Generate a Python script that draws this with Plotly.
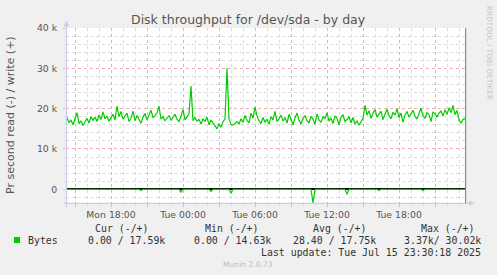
import plotly.graph_objects as go
import pandas as pd

# ---------------- data ----------------
# write bytes/s (positive), 10-minute samples starting Mon 14:20
write_k = [
    17.8, 16.5, 17.2, 16.0, 17.5, 19.0, 16.3, 17.0, 15.8, 16.9,
    17.6, 16.4, 18.0, 17.1, 17.9, 16.8, 18.4, 17.3, 19.2, 17.5,
    18.1, 16.9, 17.8, 18.6, 17.2, 20.6, 18.0, 19.3, 17.4, 18.2,
    18.9, 16.8, 17.6, 19.4, 17.0, 18.3, 17.5, 16.4, 17.9, 18.8,
    17.2, 18.5, 19.6, 17.8, 18.2, 18.9, 20.6, 17.4, 18.0, 17.0,
    17.6, 18.3, 17.1, 17.9, 18.6, 17.4, 16.8, 18.1, 19.8, 17.2,
    18.0, 18.7, 25.6, 17.0, 17.8, 16.9, 17.3, 16.2, 17.5, 16.8,
    17.9, 16.0, 17.2, 16.5, 15.6, 15.0, 16.3, 15.4, 16.8, 17.4,
    30.0, 17.5, 16.1, 15.9, 16.3, 16.8, 16.2, 17.5, 16.6, 18.3,
    17.1, 16.5, 18.9, 17.6, 20.4, 18.2, 17.0, 16.3, 17.8, 16.6,
    17.4, 16.1, 18.0, 17.2, 19.3, 16.8, 17.5, 18.4, 16.9, 17.8,
    16.4, 18.6, 17.3, 16.0, 17.7, 18.9, 17.1, 16.2, 17.6, 18.3,
    17.0, 16.5, 18.1, 17.4, 16.1, 18.7, 17.2, 16.6, 18.0, 17.5,
    19.0, 16.9, 17.7, 16.3, 18.2, 17.6, 16.0, 17.9, 18.5, 16.8,
    17.3, 18.0, 16.5, 17.8, 16.2, 17.0, 15.9, 16.8, 17.6, 20.8,
    18.4, 19.5, 17.6, 18.9, 19.8, 17.9, 18.6, 19.4, 17.3, 18.8,
    19.9, 18.2, 17.5, 19.1, 18.4, 20.0, 17.8, 18.9, 16.6, 18.5,
    19.3, 17.9, 18.6, 19.6, 18.1, 17.4, 18.8, 20.1, 18.3, 17.6,
    19.0, 18.5, 16.8, 19.2, 18.7, 17.9, 18.9, 19.4, 18.2, 19.7,
    18.6, 20.2, 19.0, 20.8, 18.5, 19.6, 17.2, 16.4, 17.3, 17.59,
]
# read bytes/s (drawn negative), same samples; mostly zero
read_k = [0.0] * len(write_k)
read_spikes = {37: 0.3, 57: 0.7, 72: 0.5, 82: 1.0, 123: 3.37, 140: 1.25, 156: 0.3, 178: 0.3}
for idx, v in read_spikes.items():
    read_k[idx] = v

times = pd.date_range("2025-07-14 14:20", periods=len(write_k), freq="10min")

x_range = ["2025-07-14 14:15", "2025-07-15 23:35"]
x_tickvals = pd.date_range("2025-07-14 15:00", "2025-07-15 21:00", freq="3h")
x_label_map = {
    "2025-07-14 18:00": "Mon 18:00",
    "2025-07-15 00:00": "Tue 00:00",
    "2025-07-15 06:00": "Tue 06:00",
    "2025-07-15 12:00": "Tue 12:00",
    "2025-07-15 18:00": "Tue 18:00",
}
x_ticktext = [x_label_map.get(t.strftime("%Y-%m-%d %H:%M"), "") for t in x_tickvals]

y_tickvals = [0, 10000, 20000, 30000, 40000]
y_ticktext = ["0", "10 k", "20 k", "30 k", "40 k"]
y_range = [-3400, 40000]

title_text = "Disk throughput for /dev/sda - by day"
y_title = "Pr second read (-) / write (+)"
legend_name = "Bytes"
col_headers = ["Cur (-/+)", "Min (-/+)", "Avg (-/+)", "Max (-/+)"]
col_values = ["0.00 / 17.59k", "0.00 / 14.63k", "28.40 / 17.75k", "3.37k/ 30.02k"]
last_update = "Last update: Tue Jul 15 23:30:18 2025"
footer = "Munin 2.0.73"
side_text = "RRDTOOL / TOBI OETIKER"

# ---------------- figure ----------------
W, H = 497, 275
L, R, T, B = 66, 31, 28, 72
PW, PH = W - L - R, H - T - B

def px(x):
    return (x - L) / PW

def py(y):
    return (H - B - y) / PH

GREEN = "#00CC00"
fig = go.Figure()
fig.add_trace(go.Scatter(x=times, y=[v * 1000 for v in write_k], mode="lines",
                         line=dict(color=GREEN, width=1.2), showlegend=False,
                         hoverinfo="skip"))
fig.add_trace(go.Scatter(x=times, y=[-v * 1000 for v in read_k], mode="lines",
                         line=dict(color=GREEN, width=1.2), showlegend=False,
                         hoverinfo="skip"))

GRID_MAJ = "#EDB0B0"
GRID_MIN = "#DCDCDC"
AXIS_COL = "#C8CCF0"
TXT = "#555555"

fig.update_layout(
    width=W, height=H,
    margin=dict(l=L, r=R, t=T, b=B),
    paper_bgcolor="#F0F0F0", plot_bgcolor="#FFFFFF",
    font=dict(family="DejaVu Sans", size=9.3, color=TXT),
    xaxis=dict(
        range=x_range, type="date",
        tickvals=list(x_tickvals), ticktext=x_ticktext,
        showgrid=True, gridcolor=GRID_MAJ, griddash="dot", gridwidth=1,
        ticks="outside", ticklen=3, tickcolor=GRID_MAJ,
        minor=dict(dtick=3600000, tick0="2025-07-14 00:00", showgrid=True,
                   gridcolor=GRID_MIN, griddash="dot", gridwidth=1,
                   ticks="outside", ticklen=2, tickcolor=GRID_MIN),
        showline=False, zeroline=False, tickangle=0,
        tickfont=dict(size=9.3, color=TXT),
    ),
    yaxis=dict(
        range=y_range, tickvals=y_tickvals, ticktext=y_ticktext,
        showgrid=True, gridcolor=GRID_MAJ, griddash="dot", gridwidth=1,
        ticks="outside", ticklen=2, tickcolor=GRID_MAJ,
        minor=dict(dtick=2000, tick0=0, showgrid=True, gridcolor=GRID_MIN,
                   griddash="dot", gridwidth=1, ticks="outside", ticklen=2,
                   tickcolor=GRID_MIN),
        showline=False, zeroline=True, zerolinecolor="#000000", zerolinewidth=1.6,
        ticklabelstandoff=4,
        tickfont=dict(size=9.3, color=TXT),
    ),
)

shapes = [
    # bottom axis line + arrow
    dict(type="line", xref="paper", yref="paper", x0=px(64), x1=px(470), y0=py(203.3), y1=py(203.3),
         line=dict(color=AXIS_COL, width=1.2)),
    dict(type="path", xref="paper", yref="paper",
         path=f"M {px(469)} {py(200.5)} L {px(474.5)} {py(203.3)} L {px(469)} {py(206.1)} Z",
         fillcolor=AXIS_COL, line=dict(width=0)),
    # left axis line + arrow
    dict(type="line", xref="paper", yref="paper", x0=px(66.5), x1=px(66.5), y0=py(207), y1=py(24),
         line=dict(color=AXIS_COL, width=1.2)),
    dict(type="path", xref="paper", yref="paper",
         path=f"M {px(63.7)} {py(26.5)} L {px(66.5)} {py(20.5)} L {px(69.3)} {py(26.5)} Z",
         fillcolor=AXIS_COL, line=dict(width=0)),
    # right border line
    dict(type="line", xref="paper", yref="paper", x0=px(465.6), x1=px(465.6), y0=py(203.3), y1=py(28),
         line=dict(color="#8A8A8A", width=1.2)),
    # legend colour box
    dict(type="rect", xref="paper", yref="paper", x0=px(14), x1=px(20), y0=py(243), y1=py(237),
         fillcolor=GREEN, line=dict(width=0)),
]
fig.update_layout(shapes=shapes)

MONO = "DejaVu Sans Mono"
ann = []
ann.append(dict(text=title_text, x=px(248), y=py(19.5), xanchor="center", yanchor="middle",
                font=dict(family="DejaVu Sans", size=12.5, color="#555555")))
ann.append(dict(text=y_title, x=px(10), y=py(115), textangle=-90, xanchor="center", yanchor="middle",
                font=dict(family="DejaVu Sans", size=11, color="#555555")))
ann.append(dict(text=side_text, x=px(490), y=py(53), textangle=90, xanchor="center", yanchor="middle",
                font=dict(family="DejaVu Sans", size=7.3, color="#C8C8C8")))
ann.append(dict(text=legend_name, x=px(26), y=py(240), xanchor="left", yanchor="middle",
                font=dict(family=MONO, size=9.9, color="#333333")))
header_right = [151, 260.5, 368.5, 477]
value_right = [167, 273, 378, 483]
for h, xr in zip(col_headers, header_right):
    ann.append(dict(text=h, x=px(xr), y=py(228), xanchor="right", yanchor="middle",
                    font=dict(family=MONO, size=9.9, color="#333333")))
for v, xr in zip(col_values, value_right):
    ann.append(dict(text=v, x=px(xr), y=py(240), xanchor="right", yanchor="middle",
                    font=dict(family=MONO, size=9.9, color="#333333")))
ann.append(dict(text=last_update, x=px(483), y=py(252), xanchor="right", yanchor="middle",
                font=dict(family=MONO, size=9.9, color="#333333")))
ann.append(dict(text=footer, x=px(248), y=py(264), xanchor="center", yanchor="middle",
                font=dict(family="DejaVu Sans", size=7.6, color="#BBBBBB")))
for a in ann:
    a.update(xref="paper", yref="paper", showarrow=False)
fig.update_layout(annotations=ann)

fig.write_html("out.html")
